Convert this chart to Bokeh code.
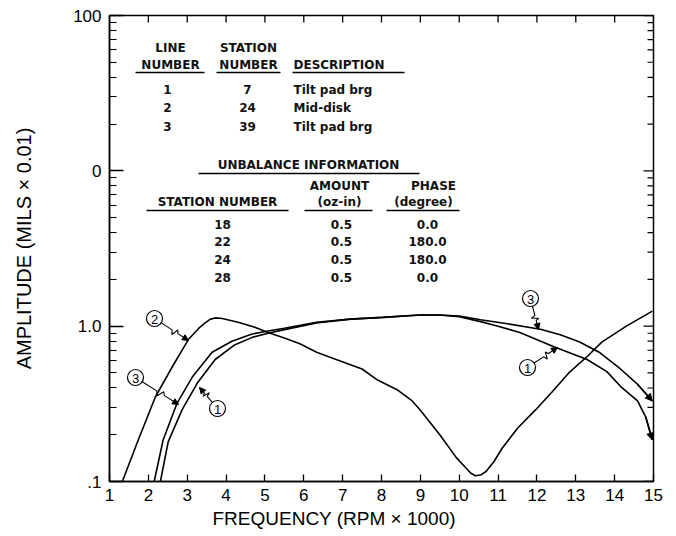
import math
from bokeh.plotting import figure
from bokeh.models import Range1d, FixedTicker, Arrow, NormalHead, Title
from bokeh.core.properties import value
from bokeh.embed import file_html
from bokeh.resources import INLINE

# ---------------- data ----------------
# Line 1: station 7, tilt pad bearing
freq_line1 = [2.31, 2.51, 2.87, 3.26, 3.72, 4.23, 4.69, 5.08, 5.5, 6.33, 7.2, 8.03, 8.99,
              9.5, 10.0, 10.55, 11.0, 11.56, 12.42, 13.29, 13.8, 14.15, 14.59, 14.8, 14.97]
amp_line1 = [0.1, 0.18, 0.29, 0.43, 0.61, 0.76, 0.85, 0.9, 0.95, 1.05, 1.11, 1.14, 1.18,
             1.18, 1.15, 1.07, 1.0, 0.91, 0.74, 0.61, 0.51, 0.41, 0.33, 0.26, 0.185]
# Line 2: station 24, mid-disk
freq_line2 = [1.33, 1.74, 2.18, 2.62, 3.03, 3.3, 3.46, 3.6, 3.72, 3.9, 4.31, 4.74, 5.08,
              5.5, 5.9, 6.33, 6.92, 7.5, 7.9, 8.4, 8.79, 8.99, 9.5, 9.92, 10.15, 10.3,
              10.42, 10.55, 10.69, 10.9, 11.1, 11.5, 11.97, 12.4, 12.82, 13.3, 13.67,
              14.3, 14.97]
amp_line2 = [0.1, 0.185, 0.35, 0.55, 0.82, 0.97, 1.05, 1.11, 1.13, 1.12, 1.06, 0.985, 0.91,
             0.84, 0.77, 0.68, 0.6, 0.53, 0.45, 0.39, 0.33, 0.29, 0.2, 0.143, 0.124, 0.113,
             0.109, 0.11, 0.116, 0.135, 0.163, 0.22, 0.29, 0.38, 0.5, 0.64, 0.79,
             1.0, 1.25]
# Line 3: station 39, tilt pad bearing
freq_line3 = [2.15, 2.38, 2.74, 3.13, 3.64, 4.15, 4.67, 5.08, 5.5, 6.33, 7.2, 8.03, 8.99,
              9.5, 10.0, 10.55, 11.2, 12.09, 12.6, 13.1, 13.6, 14.15, 14.6, 14.97]
amp_line3 = [0.1, 0.185, 0.32, 0.47, 0.68, 0.8, 0.89, 0.93, 0.97, 1.06, 1.11, 1.14, 1.18,
             1.18, 1.16, 1.1, 1.04, 0.956, 0.88, 0.79, 0.68, 0.53, 0.42, 0.33]

x_ticks = list(range(1, 16))
y_ticks = [0.1, 1, 10, 100]
y_tick_labels = [".1", "1.0", "0", "100"]
y_minor = [0.2, 0.3, 0.4, 0.5, 0.6, 0.7, 0.8, 0.9, 2, 3, 4, 5, 6, 7, 8, 9,
           20, 30, 40, 50, 60, 70, 80, 90]

line_numbers = ["1", "2", "3"]
line_stations = ["7", "24", "39"]
line_descriptions = ["Tilt pad brg", "Mid-disk", "Tilt pad brg"]
unb_stations = ["18", "22", "24", "28"]
unb_amounts = ["0.5", "0.5", "0.5", "0.5"]
unb_phases = ["0.0", "180.0", "180.0", "0.0"]

# ---------------- geometry helpers (page pixels -> data) ----------------
W, H = 672, 536
FL, FR, FT, FB = 109, 653, 15, 481


def DX(px):
    return 1 + (px - FL) / (FR - FL) * 14


def DY(py):
    return 10 ** (-1 + (FB - py) / (FB - FT) * 3)


p = figure(width=W, height=H, x_range=Range1d(1, 15), y_range=Range1d(0.1, 100),
           y_axis_type="log", output_backend="svg", toolbar_location=None,
           min_border_left=FL, min_border_right=W - FR, min_border_top=FT,
           min_border_bottom=H - FB)
p.background_fill_color = "white"
p.border_fill_color = "white"
p.outline_line_color = "black"
p.outline_line_width = 1.5
p.xgrid.visible = False
p.ygrid.visible = False

tick_font = "Liberation Sans"

xa = p.xaxis[0]
xa.ticker = FixedTicker(ticks=x_ticks)
xa.major_tick_in = 7
xa.major_tick_out = 0
xa.minor_tick_in = 0
xa.minor_tick_out = 0
xa.axis_line_width = 1.5
xa.major_tick_line_width = 1.3
xa.major_label_text_font = tick_font
xa.major_label_text_font_size = "17px"
xa.major_label_text_color = "black"
xa.major_label_standoff = 7

ya = p.yaxis[0]
ya.ticker = FixedTicker(ticks=y_ticks, minor_ticks=y_minor)
ya.major_label_overrides = dict(zip(y_ticks, y_tick_labels))
ya.major_tick_in = 14
ya.major_tick_out = 0
ya.minor_tick_in = 7
ya.minor_tick_out = 0
ya.axis_line_width = 1.5
ya.major_tick_line_width = 1.3
ya.minor_tick_line_width = 1.2
ya.major_label_text_font = tick_font
ya.major_label_text_font_size = "17px"
ya.major_label_text_color = "black"
ya.major_label_standoff = 8
ya.major_label_orientation = "horizontal"
ya.axis_label = "AMPLITUDE (MILS × 0.01)"
ya.axis_label_text_font = tick_font
ya.axis_label_text_font_size = "20px"
ya.axis_label_text_font_style = "normal"
ya.axis_label_text_color = "black"
ya.axis_label_standoff = 35

# x-axis title, placed left of centre as in the reference
p.add_layout(Title(text="FREQUENCY (RPM × 1000)", align="left", offset=103,
                   text_font=tick_font, text_font_size="19px", text_font_style="normal",
                   text_color="black", standoff=5), "below")

# top and right inner ticks
p.ray(x=x_ticks, y=[100] * len(x_ticks), length=7, length_units="screen",
      angle=-math.pi / 2, line_color="black", line_width=1.3)
p.ray(x=[15] * len(y_ticks), y=y_ticks, length=10, length_units="screen",
      angle=math.pi, line_color="black", line_width=1.3)
p.ray(x=[15] * len(y_minor), y=y_minor, length=6, length_units="screen",
      angle=math.pi, line_color="black", line_width=1.2)

# ---------------- curves ----------------
for xs, ys in [(freq_line1, amp_line1), (freq_line2, amp_line2), (freq_line3, amp_line3)]:
    p.line(xs, ys, line_color="black", line_width=1.6)

# end arrowheads on lines 1 and 3
for xs, ys in [(freq_line1, amp_line1), (freq_line3, amp_line3)]:
    p.add_layout(Arrow(end=NormalHead(size=7, fill_color="black", line_color="black"),
                       x_start=xs[-2], y_start=ys[-2], x_end=xs[-1], y_end=ys[-1],
                       line_color="black", line_width=1.6))

# ---------------- circled labels with squiggly leaders ----------------
callouts = [  # (label, circle page px, tip page px)
    ("2", (154, 318), (188, 340)),
    ("3", (135, 377), (178, 404)),
    ("1", (217, 408), (199, 387)),
    ("3", (530, 298), (538, 329)),
    ("1", (527, 367), (557, 347)),
]
for lab, (cx, cy), (tx, ty) in callouts:
    ddx, ddy = tx - cx, ty - cy
    L = math.hypot(ddx, ddy)
    ux, uy = ddx / L, ddy / L
    nx, ny = -uy, ux
    sx, sy = cx + ux * 8, cy + uy * 8
    L2 = L - 8
    a = 0.40
    pts = [(sx, sy),
           (sx + ux * L2 * a, sy + uy * L2 * a),
           (sx + ux * L2 * (a + 0.07) + nx * 4, sy + uy * L2 * (a + 0.07) + ny * 4),
           (sx + ux * L2 * (a + 0.15) - nx * 3, sy + uy * L2 * (a + 0.15) - ny * 3),
           (sx + ux * L2 * (a + 0.21), sy + uy * L2 * (a + 0.21)),
           (tx, ty)]
    p.line([DX(q[0]) for q in pts], [DY(q[1]) for q in pts], line_color="black", line_width=1.1)
    bx, by = tx - ux * 6, ty - uy * 6
    p.add_layout(Arrow(end=NormalHead(size=6, fill_color="black", line_color="black"),
                       x_start=DX(bx), y_start=DY(by), x_end=DX(tx), y_end=DY(ty),
                       line_color="black", line_width=1))
    p.scatter([DX(cx)], [DY(cy)], marker="circle", size=16, fill_color="white",
              line_color="black", line_width=1.2)
    p.text([DX(cx)], [DY(cy + 0.5)], text=[lab], text_align="center", text_baseline="middle",
           text_font=value(tick_font), text_font_size="13px", text_color="black")

# ---------------- tables ----------------
tfont = value("DejaVu Sans")
tsize = "12px"


def put(texts, xs_px, ys_px, align="left"):
    p.text([DX(v) for v in xs_px], [DY(v) for v in ys_px], text=texts,
           text_align=align, text_baseline="middle", text_font=tfont,
           text_font_size=tsize, text_font_style="bold", text_color="#111111")


def uline(x0, x1, y):
    p.segment([DX(x0)], [DY(y)], [DX(x1)], [DY(y)], line_color="black", line_width=1.3)


put(["LINE", "STATION"], [170, 248], [47, 47], "center")
put(["NUMBER", "NUMBER"], [170, 248], [64, 64], "center")
put(["DESCRIPTION"], [293], [64], "left")
uline(135, 204, 72)
uline(216, 280, 72)
uline(292, 404, 72)
row_y = [89, 107, 126]
put(line_numbers, [167] * 3, row_y, "center")
put(line_stations, [247] * 3, row_y, "center")
put(line_descriptions, [293] * 3, row_y, "left")

put(["UNBALANCE INFORMATION"], [308], [164], "center")
uline(198, 419, 173)
put(["AMOUNT", "PHASE"], [339, 433], [185, 185], "center")
put(["STATION NUMBER", "(oz-in)", "(degree)"], [217, 339, 423], [201, 201, 201], "center")
uline(146, 288, 210)
uline(304, 372, 210)
uline(386, 459, 210)
urow_y = [224, 241, 259, 277]
put(unb_stations, [222] * 4, urow_y, "center")
put(unb_amounts, [341] * 4, urow_y, "center")
put(unb_phases, [427] * 4, urow_y, "center")

open("out.html", "w").write(file_html(p, INLINE))
